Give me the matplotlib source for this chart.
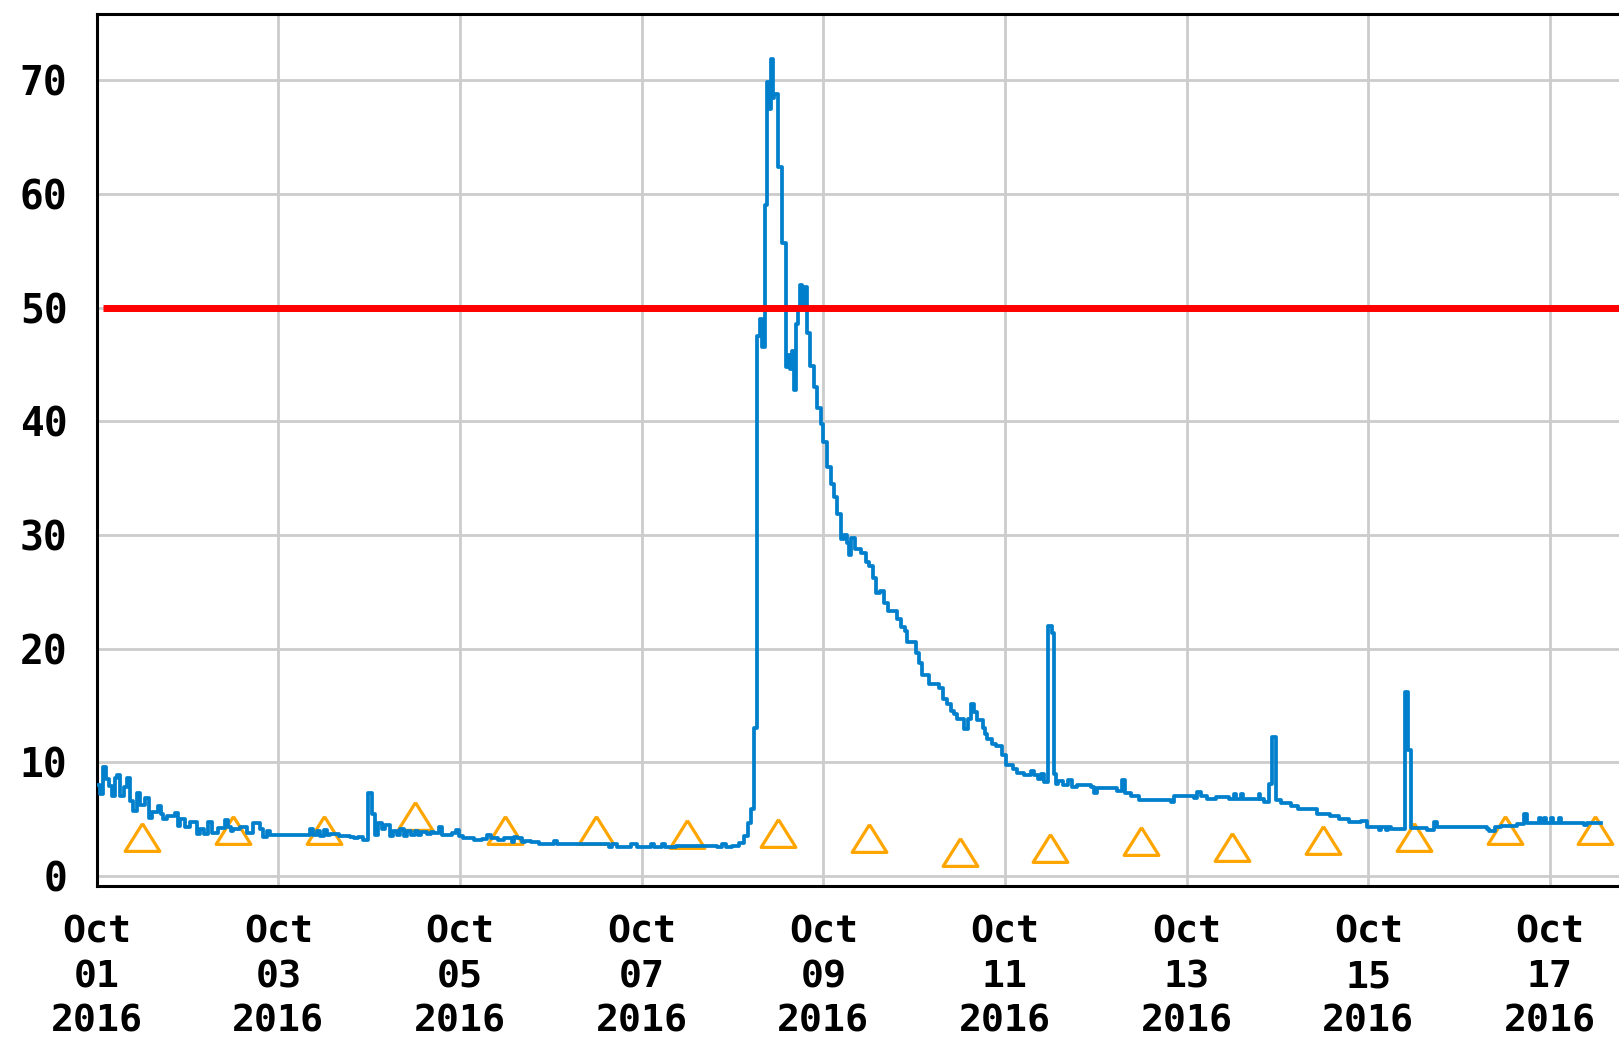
import matplotlib
matplotlib.use('Agg')
import matplotlib.pyplot as plt
import matplotlib.dates as mdates
import pandas as pd

start = pd.Timestamp('2016-10-01')

# continuous sensor record: hours since Oct 1 00:00, value
hours = [0.4, 0.8, 1.6, 2.4, 3.2, 4.0, 4.8, 5.5, 6.3, 7.1, 7.9, 8.8, 9.7, 10.6,
         11.4, 12.8, 13.7, 14.5, 16.3, 17.0, 17.6, 18.5, 20.7, 21.4, 22.0, 23.3,
         24.7, 26.4, 27.3, 28.4, 29.5, 30.4, 32.1, 33.9, 34.8, 35.5, 36.1, 37.9,
         39.6, 41.4, 43.2, 44.0, 44.9, 45.8, 56.4, 57.2, 58.1, 59.0, 60.0, 60.8,
         61.6, 64.0, 66.9, 68.0, 69.0, 70.5, 71.8, 72.7, 73.5, 74.4, 75.3, 76.2,
         77.5, 78.4, 79.3, 80.2, 81.1, 82.0, 83.0, 84.0, 85.0, 85.6, 87.4, 88.3,
         89.1, 90.4, 91.3, 94.0, 94.9, 95.7, 96.8, 99.7, 101.9, 103.2, 104.1,
         106.0, 107.5, 109.8, 110.4, 111.1, 112.4, 113.3, 114.7, 116.9, 120.8,
         121.7, 135.4, 136.2, 137.6, 141.1, 142.8, 146.4, 147.2, 149.4, 150.3,
         153.0, 164.0, 165.3, 166.2, 167.9, 169.7, 171.1, 172.0, 172.8, 173.7,
         174.6, 175.4, 175.7, 176.5, 177.2, 177.7, 178.3, 178.6, 179.0, 180.1,
         181.0, 182.1, 182.7, 183.2, 183.8, 184.2, 184.7, 185.2, 185.9, 186.5,
         187.0, 187.6, 188.5, 189.5, 190.4, 191.3, 192.0, 193.0, 193.9, 194.8,
         195.7, 196.7, 197.5, 198.3, 198.8, 199.3, 200.5, 202.0, 203.2, 204.0,
         205.0, 206.0, 207.0, 208.0, 209.0, 211.5, 212.4, 213.5, 214.2, 216.4,
         217.2, 218.1, 219.9, 222.5, 223.5, 224.8, 225.7, 226.5, 227.4, 229.2,
         230.1, 231.0, 231.8, 232.7, 234.3, 234.7, 235.3, 236.7, 237.5, 239.3,
         240.2, 242.0, 243.1, 245.0, 246.8, 247.7, 248.7, 249.5, 250.3, 251.4,
         252.3, 253.0, 253.5, 254.0, 255.2, 256.7, 257.8, 259.1, 262.7, 263.5,
         264.4, 269.7, 271.0, 271.6, 273.2, 275.4, 283.8, 284.7, 290.0, 290.8,
         291.7, 293.5, 295.7, 299.2, 300.5, 301.0, 302.3, 302.8, 307.0, 307.5,
         308.4, 309.7, 310.6, 311.5, 312.9, 315.5, 317.3, 322.5, 326.0, 328.2,
         330.9, 334.0, 335.7, 338.8, 339.4, 340.6, 341.2, 341.9, 345.7, 346.5,
         347.4, 351.6, 353.3, 354.2, 367.4, 368.0, 369.5, 371.0, 375.4, 377.1,
         378.0, 381.1, 381.6, 382.4, 382.9, 384.2, 384.7, 386.4, 386.9, 393.0,
         393.8, 397.4]
values = [8.0, 7.2, 9.6, 8.5, 7.9, 7.0, 8.6, 8.9, 7.0, 7.8, 8.6, 6.6, 5.7, 7.3,
          6.2, 6.8, 5.1, 5.6, 6.1, 5.4, 5.0, 5.3, 5.5, 4.4, 5.0, 4.3,
          4.7, 3.7, 4.1, 3.7, 4.7, 3.8, 4.2, 4.9, 4.3, 3.9, 4.1, 4.3,
          3.8, 4.6, 4.1, 3.4, 3.9, 3.58, 4.1, 3.6, 3.9, 3.5, 4.0, 3.6,
          3.7, 3.5, 3.45, 3.3, 3.45, 3.15, 7.3, 5.4, 3.6, 4.6, 4.1, 4.5,
          3.5, 3.9, 3.6, 4.1, 3.5, 3.9, 3.6, 3.9, 3.6, 3.88, 3.7, 3.88,
          3.73, 4.25, 3.58, 3.73, 4.0, 3.5, 3.3, 3.14, 3.2, 3.6, 3.29,
          3.15, 3.29, 3.0, 3.4, 3.29, 3.0, 3.1, 3.0, 2.82, 3.1,
          2.82, 2.5, 2.82, 2.5, 2.82, 2.5, 2.82, 2.5, 2.82, 2.5,
          2.6, 2.5, 2.82, 2.5, 2.6, 2.9, 3.5, 4.6, 5.9, 13.0,
          47.5, 49.0, 46.5, 59.0, 69.9, 67.5, 71.9, 68.5, 68.8, 62.4,
          55.7, 44.8, 45.8, 44.6, 46.2, 42.8, 48.6, 49.8, 52.0, 50.3,
          51.8, 47.8, 44.9, 43.0, 41.2, 39.8, 38.2, 36.0, 34.5, 33.3,
          31.8, 29.6, 30.0, 29.3, 28.2, 29.7, 28.8, 28.4, 27.6, 27.3,
          26.2, 24.9, 25.1, 24.0, 23.3, 22.6, 21.9, 21.5, 20.6, 19.6,
          18.7, 17.7, 16.9, 16.5, 15.6, 15.1, 14.5, 14.2, 13.8, 12.9,
          13.8, 15.1, 14.4, 13.7, 13.0, 12.5, 12.0, 11.6, 11.4, 10.6,
          9.75, 9.42, 9.07, 8.84, 9.22, 8.84, 8.5, 9.0, 8.25, 22.0,
          21.4, 9.0, 8.1, 8.3, 7.98, 8.43, 7.84, 7.98, 7.84, 7.3,
          7.7, 7.49, 8.43, 7.25, 7.02, 6.67, 6.52, 7.02, 6.85, 7.4,
          7.05, 6.73, 6.96, 6.75, 7.2, 6.75, 7.2, 6.75, 7.2, 6.75,
          6.5, 8.1, 12.2, 6.67, 6.37, 6.14, 5.84, 5.44, 5.29, 5.02,
          4.73, 4.85, 4.26, 4.0, 4.26, 4.0, 4.26, 4.11, 16.2, 11.1,
          4.17, 4.03, 4.76, 4.26, 4.15, 3.95, 4.26, 4.4, 4.55, 5.4,
          4.61, 5.05, 4.61, 5.05, 4.61, 5.05, 4.61, 5.05, 4.61, 4.45,
          4.61, 4.61]

# grab samples, one per day at noon
sample_days = list(range(1, 18))
sample_values = [3.43, 4.02, 4.02, 5.30, 4.04, 4.04, 3.70, 3.73, 3.29, 2.10,
                 2.47, 3.08, 2.50, 3.12, 3.40, 4.05, 4.05]

limit = 50
limit_start_hour = 1.8

times = start + pd.to_timedelta(hours, unit='h')
sample_times = [pd.Timestamp(2016, 10, d, 12) for d in sample_days]

blue = '#0080CC'
orange = '#FFA500'

plt.rcParams['font.family'] = ['DejaVu Sans Mono']
plt.rcParams['font.weight'] = 'bold'

fig = plt.figure(figsize=(16.19, 10.39), dpi=100)
ax = fig.add_axes([0.0597, 0.1475, 0.9403, 0.8390])

# open triangle with a slightly squat shape
tri = [(0, 0.8), (-1, -0.8), (1, -0.8), (0, 0.8)]

ax.plot(sample_times, sample_values, ls='none', marker=tri, ms=25,
        mfc='none', mec=orange, mew=2.3, zorder=2.5)
ax.plot(times, values, drawstyle='steps-post', color=blue, lw=2.7, zorder=3)

x_end = start + pd.Timedelta(days=16.76)
ax.hlines(limit, start + pd.Timedelta(hours=limit_start_hour), x_end,
          color='#FF0000', lw=5, zorder=4)

ax.set_xlim(start, x_end)
ax.set_ylim(-0.88, 75.85)

ax.xaxis.set_major_locator(mdates.DayLocator(bymonthday=range(1, 32, 2)))
ax.xaxis.set_major_formatter(mdates.DateFormatter('%b\n%d\n%Y'))
ax.set_yticks(range(0, 71, 10))

ax.grid(True, color='#CCCCCC', lw=2.0, zorder=0)
ax.set_axisbelow(True)

for side in ['left', 'top', 'bottom']:
    ax.spines[side].set_linewidth(2.2)
    ax.spines[side].set_color('black')
ax.spines['right'].set_visible(False)

ax.tick_params(axis='both', length=0)
ax.tick_params(axis='x', pad=21, labelsize=27.5)
ax.tick_params(axis='y', pad=21, labelsize=28.5)
for lab in ax.get_xticklabels():
    lab.set_fontweight('bold')
    lab.set_linespacing(1.3)
for lab in ax.get_yticklabels():
    lab.set_fontweight('bold')

fig.savefig('out.png', dpi=100)
